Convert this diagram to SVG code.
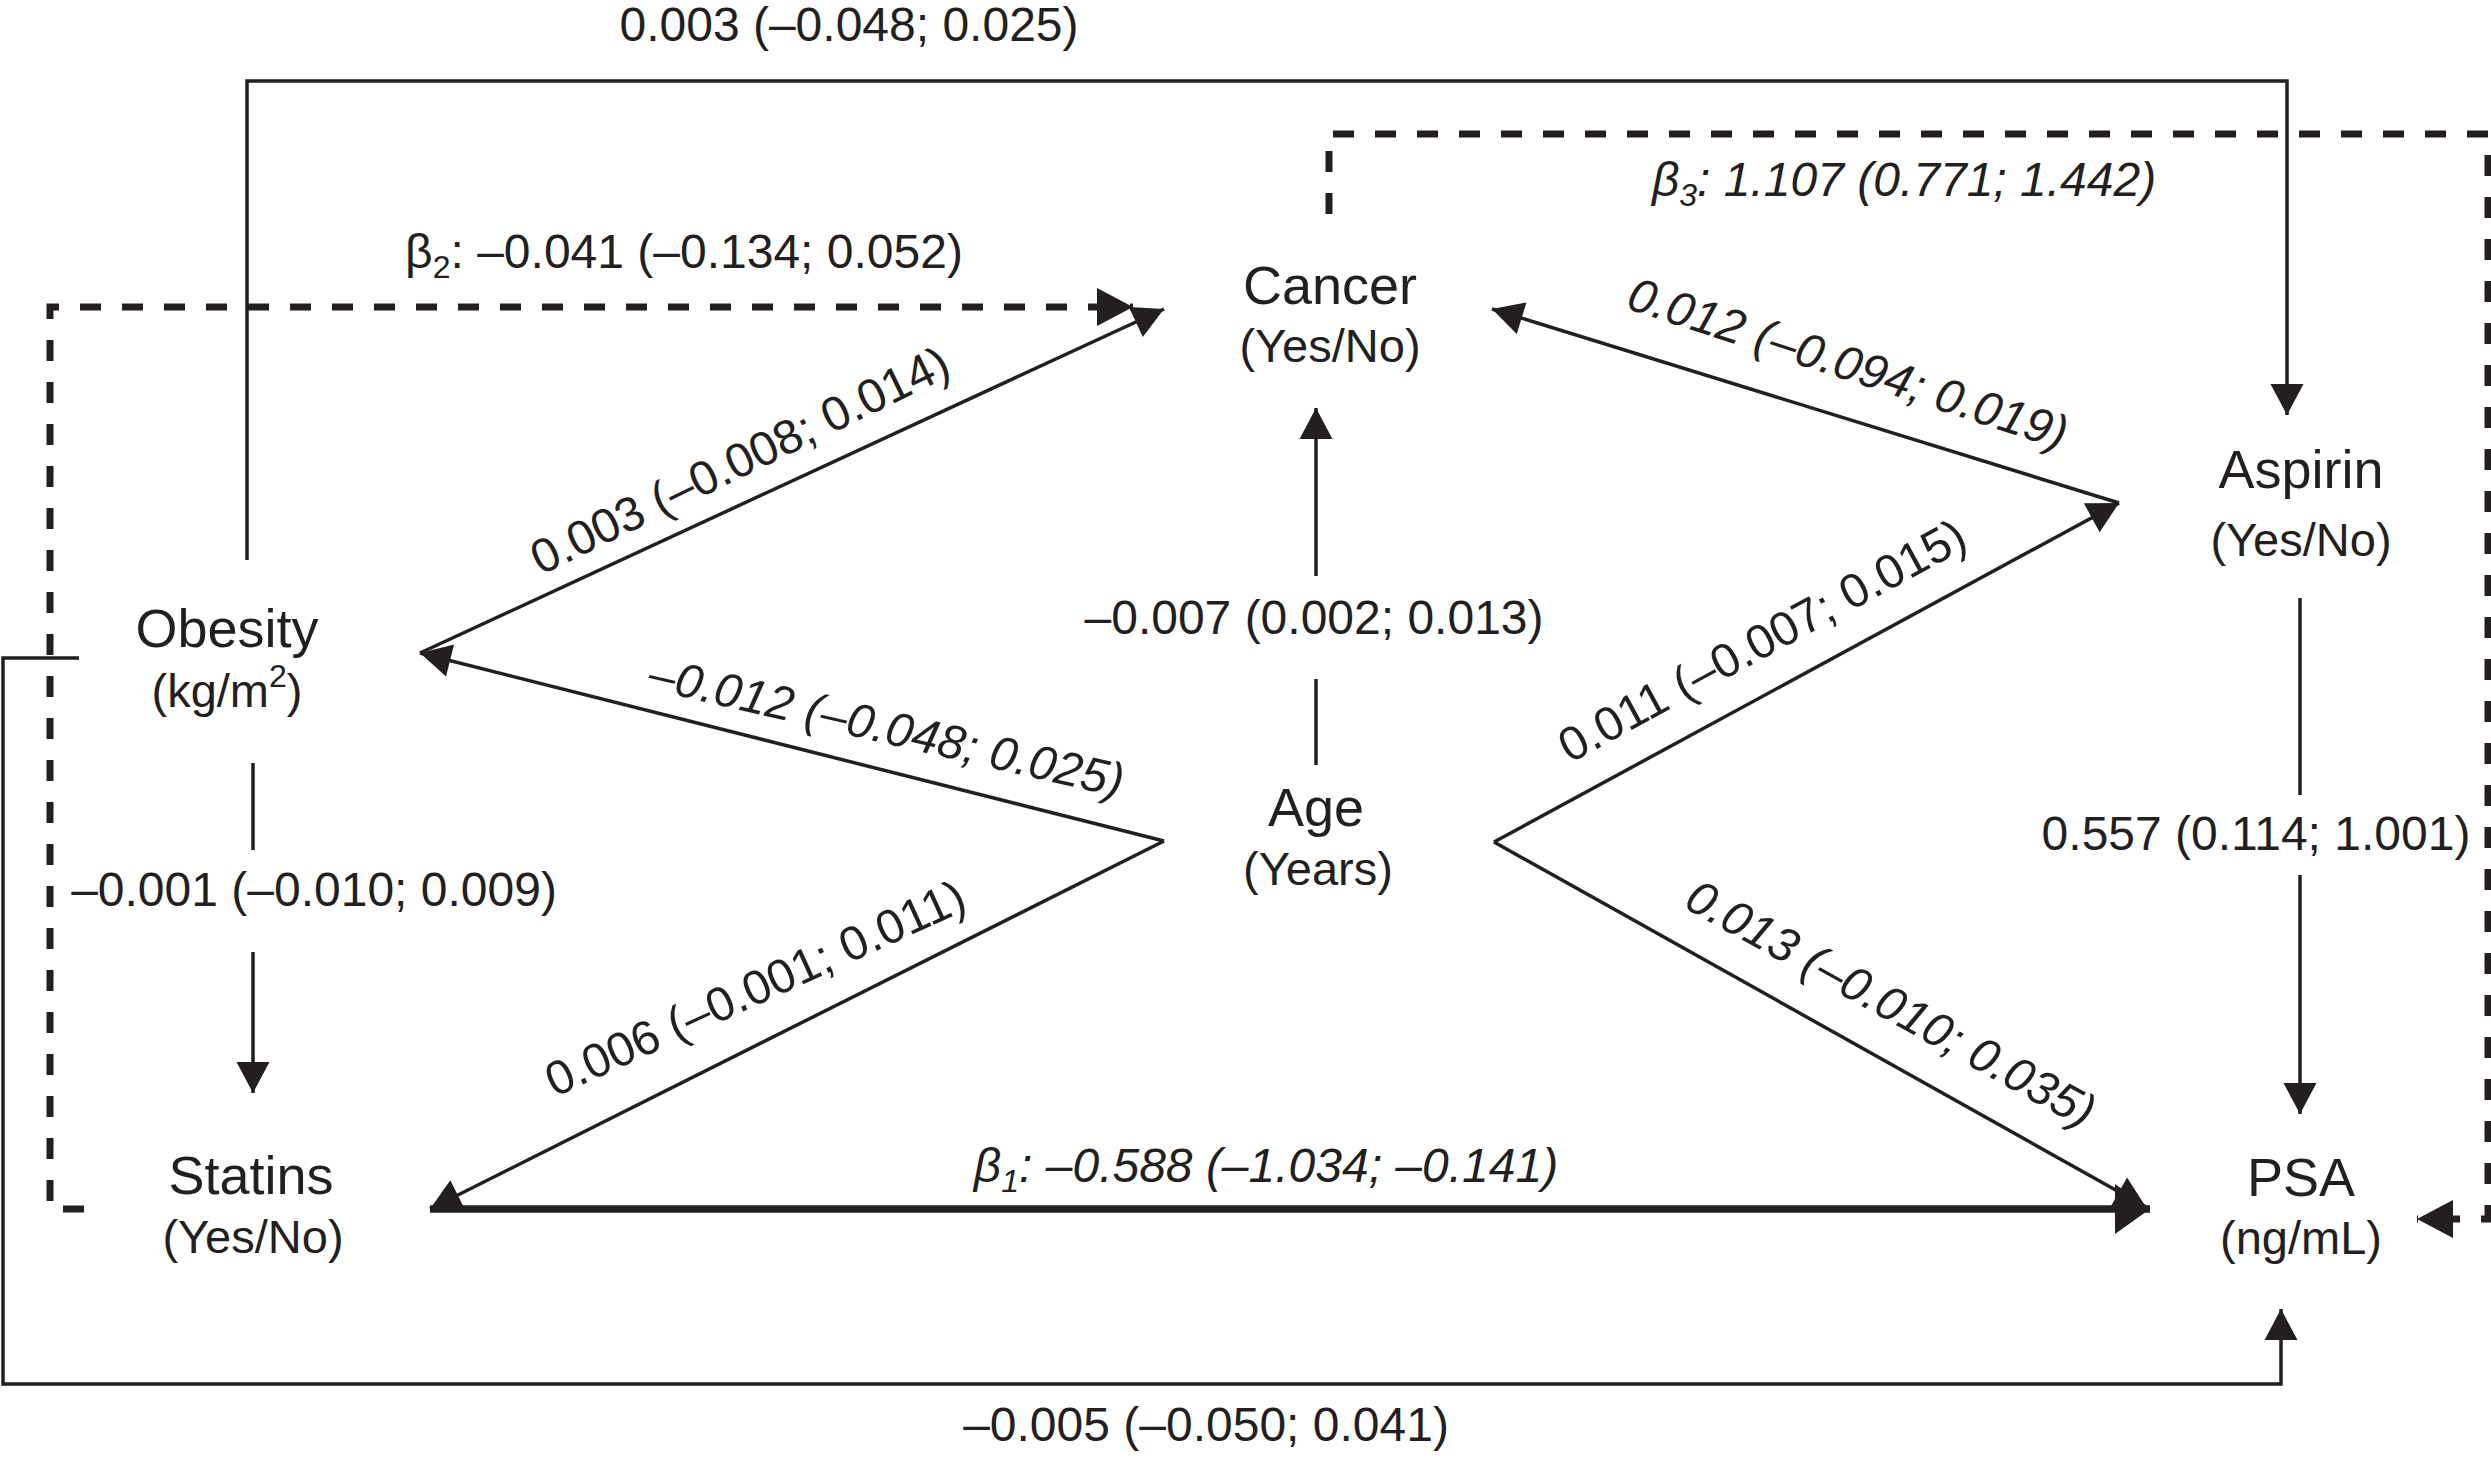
<svg xmlns="http://www.w3.org/2000/svg" width="2491" height="1460" viewBox="0 0 2491 1460">
<style>
.t{font-family:"Liberation Sans",Arial,Helvetica,sans-serif;fill:#231f20}
.node{font-size:54px;text-anchor:middle}
.sub{font-size:47px;text-anchor:middle}
.lbl{font-size:48px;text-anchor:middle}
.it{font-style:italic}
.ln{stroke:#231f20;stroke-width:3.5;fill:none}
.thick{stroke-width:7.5}
.dash{stroke-width:7;stroke-dasharray:21 21}
</style>
<defs>
<marker id="ah" markerUnits="userSpaceOnUse" markerWidth="40" markerHeight="40" refX="31" refY="16.5" orient="auto" overflow="visible"><path d="M0,0 L31,16.5 L0,33 z" fill="#231f20"/></marker>
<marker id="ahd" markerUnits="userSpaceOnUse" markerWidth="40" markerHeight="40" refX="36" refY="19" orient="auto" overflow="visible"><path d="M0,0 L36,19 L0,38 z" fill="#231f20"/></marker>
<marker id="ahb" markerUnits="userSpaceOnUse" markerWidth="40" markerHeight="52" refX="35" refY="25" orient="auto" overflow="visible"><path d="M0,0 L35,25 L0,50 z" fill="#231f20"/></marker>
</defs>
<rect width="2491" height="1460" fill="#ffffff"/>
<g id="connectors">
<path class="ln" d="M247,560 V81 H2287 V415" marker-end="url(#ah)"/>
<path class="ln" d="M79,658 H3 V1384 H2281 V1309" marker-end="url(#ah)"/>
<path class="ln" d="M253,763 V850"/>
<path class="ln" d="M253,952 V1093" marker-end="url(#ah)"/>
<path class="ln" d="M1316,765 V679"/>
<path class="ln" d="M1316,576 V408" marker-end="url(#ah)"/>
<path class="ln" d="M2300,598 V795"/>
<path class="ln" d="M2300,875 V1114" marker-end="url(#ah)"/>
<path class="ln" d="M420,653 L1164,309" marker-end="url(#ah)"/>
<path class="ln" d="M1164,841 L420,653" marker-end="url(#ah)"/>
<path class="ln" d="M1164,841 L430,1209" marker-end="url(#ah)"/>
<path class="ln" d="M2119,503 L1492,309" marker-end="url(#ah)"/>
<path class="ln" d="M1494,842 L2119,503" marker-end="url(#ah)"/>
<path class="ln" d="M1494,842 L2146,1207" marker-end="url(#ah)"/>
<path class="ln thick" d="M430,1209 L2150,1209" marker-end="url(#ahb)"/>
<path class="ln dash" d="M84,1209 H50 V307 H1133" marker-end="url(#ahd)"/>
<path class="ln dash" d="M1329,214 V134 H2488 V1219 H2417" marker-end="url(#ahd)"/>
</g>
<g id="edge-labels" class="t">
<text class="lbl" x="849" y="41">0.003 (–0.048; 0.025)</text>
<text class="lbl" x="684" y="268">β<tspan font-size="32" dy="10">2</tspan><tspan dy="-10">: –0.041 (–0.134; 0.052)</tspan></text>
<text class="lbl it" x="1904" y="196">β<tspan font-size="32" dy="10">3</tspan><tspan dy="-10">: 1.107 (0.771; 1.442)</tspan></text>
<text class="lbl" x="1314" y="634">–0.007 (0.002; 0.013)</text>
<text class="lbl" x="314" y="906">–0.001 (–0.010; 0.009)</text>
<text class="lbl" x="2256" y="850">0.557 (0.114; 1.001)</text>
<text class="lbl it" x="1266" y="1182">β<tspan font-size="32" dy="10">1</tspan><tspan dy="-10">: –0.588 (–1.034; –0.141)</tspan></text>
<text class="lbl" x="1206" y="1441">–0.005 (–0.050; 0.041)</text>
<text class="lbl" transform="translate(747,475) rotate(-26)">0.003 (–0.008; 0.014)</text>
<text class="lbl it" transform="translate(883,743) rotate(13)">–0.012 (–0.048; 0.025)</text>
<text class="lbl" transform="translate(762,1003) rotate(-24.5)">0.006 (–0.001; 0.011)</text>
<text class="lbl it" transform="translate(1843,379) rotate(18)">0.012 (–0.094; 0.019)</text>
<text class="lbl" transform="translate(1770,655) rotate(-28.5)">0.011 (–0.007; 0.015)</text>
<text class="lbl it" transform="translate(1883,1018) rotate(29)">0.013 (–0.010; 0.035)</text>
</g>
<g id="node-obesity" class="t">
<text class="node" x="227" y="647">Obesity</text>
<text class="sub" x="227" y="707">(kg/m<tspan font-size="32" dy="-20">2</tspan><tspan dy="20">)</tspan></text>
</g>
<g id="node-cancer" class="t">
<text class="node" x="1330" y="304">Cancer</text>
<text class="sub" x="1330" y="362">(Yes/No)</text>
</g>
<g id="node-aspirin" class="t">
<text class="node" x="2301" y="488">Aspirin</text>
<text class="sub" x="2301" y="556">(Yes/No)</text>
</g>
<g id="node-age" class="t">
<text class="node" x="1316" y="826">Age</text>
<text class="sub" x="1318" y="885">(Years)</text>
</g>
<g id="node-statins" class="t">
<text class="node" x="251" y="1194">Statins</text>
<text class="sub" x="253" y="1253">(Yes/No)</text>
</g>
<g id="node-psa" class="t">
<text class="node" x="2301" y="1196">PSA</text>
<text class="sub" x="2301" y="1254">(ng/mL)</text>
</g>
</svg>
